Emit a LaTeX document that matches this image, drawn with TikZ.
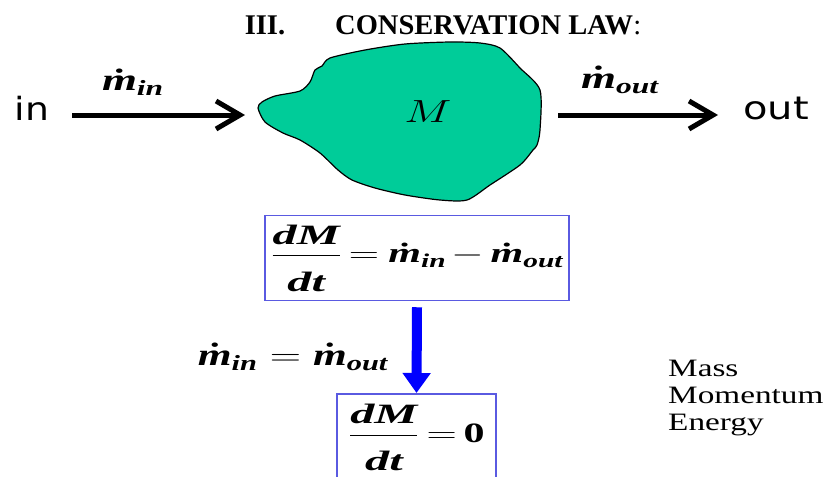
\RequirePackage{fix-cm}
\documentclass[tikz,border=0pt]{standalone}
\usepackage{amsmath}
\usepackage{graphicx}
\usepackage{fontspec}
\setmainfont{Liberation Serif}
\newfontfamily\sansfnt{DejaVu Sans}
\usetikzlibrary{arrows.meta}
\definecolor{blobgreen}{RGB}{0,204,153}
\definecolor{boxblue}{RGB}{90,90,225}
\newcommand{\bi}[1]{\text{\bfseries\itshape #1}}
\newcommand{\mdot}[1]{\boldsymbol{\dot{\bi{m}}}_{\bi{#1}}}
\newcommand{\dMdt}{\scalebox{1.15}[1]{$\displaystyle\frac{\bi{dM}}{\raisebox{-9pt}{\bi{dt}}}$}}

\begin{document}
\begin{tikzpicture}
  [x=1pt,y=-1pt,
   flow/.style={line width=5pt,-{Straight Barb[length=24pt,width=28pt]}},
   side/.style={font=\sansfnt\fontsize{32}{38}\selectfont,inner sep=0pt},
   rate/.style={font=\fontsize{31}{36}\selectfont,inner sep=0pt},
   eqbox/.style={draw=boxblue,line width=1.5pt,minimum height=85pt,inner sep=0pt,font=\fontsize{28}{34}\selectfont},
   step arrow/.style={draw=blue,line width=10pt,-{Triangle[length=20pt,width=27pt]}}]
  \useasboundingbox (0,0) rectangle (831,477);
  \node[font=\fontsize{28.5}{34}\selectfont\bfseries] (title) at (443,25)
    {III.\hspace{50pt}CONSERVATION LAW{\mdseries:}};
  \node[side] (in) at (32,108) {\scalebox{1.18}[1]{in}};
  \node[side] (out) at (776,108) {\scalebox{1.25}[1]{out}};
  \filldraw[fill=blobgreen,draw=black,line width=1.2pt] plot[smooth cycle,tension=0.45] coordinates
    {(330,58) (365,50) (405,44) (450,42) (480,43) (500,48) (520,68) (540,90) (540,130) (537,145)
     (533,150) (520,165) (490,185) (467,200) (440,200) (405,195) (375,188) (352,180) (338,170)
     (320,153) (300,140) (283,133) (265,122) (258,108) (262,102) (275,96) (300,91) (310,82)
     (315,70) (322,66)};
  \node[font=\fontsize{32}{38}\selectfont] (mass) at (428,112) {\scalebox{1.4}[1]{$M$}};
  \coordinate (blobw) at (245,115);
  \coordinate (blobe) at (558,115);
  \coordinate (inend) at (72,115);
  \coordinate (outend) at (718,115);
  \draw[flow] (inend) -- (blobw);
  \draw[flow] (blobe) -- (outend);
  \node[rate] (min) at (133,82) {\scalebox{1.45}[1]{$\mdot{in}$}};
  \node[rate] (mout) at (620,80) {\scalebox{1.45}[1]{$\mdot{out}$}};
  \node[eqbox,minimum width=304pt] (balance) at (417,258)
    {\scalebox{1.5}[1]{$\dMdt\mskip3mu{=}\mskip4mu\mdot{in}\mskip2mu{-}\mskip3mu\mdot{out}$}};
  \node[eqbox,minimum width=159pt,minimum height=88pt,anchor=north] (steady) at (416.5,393)
    {\scalebox{1.5}[1]{$\dMdt\mskip3mu{=}\mskip3mu\text{\bfseries 0}$}};
  \draw[step arrow] (balance.south) ++(0,6) coordinate (top) -- (steady.north);
  \node[rate] (cond) at (293,357) {\scalebox{1.4}[1]{$\mdot{in}=\mdot{out}$}};
  \node[font=\fontsize{25}{27}\selectfont,inner sep=0pt,anchor=north west] (laws) at (668,357)
    {\scalebox{1.33}[1]{\begin{tabular}{@{}l@{}}Mass\\Momentum\\Energy\end{tabular}}};
\end{tikzpicture}
\end{document}
